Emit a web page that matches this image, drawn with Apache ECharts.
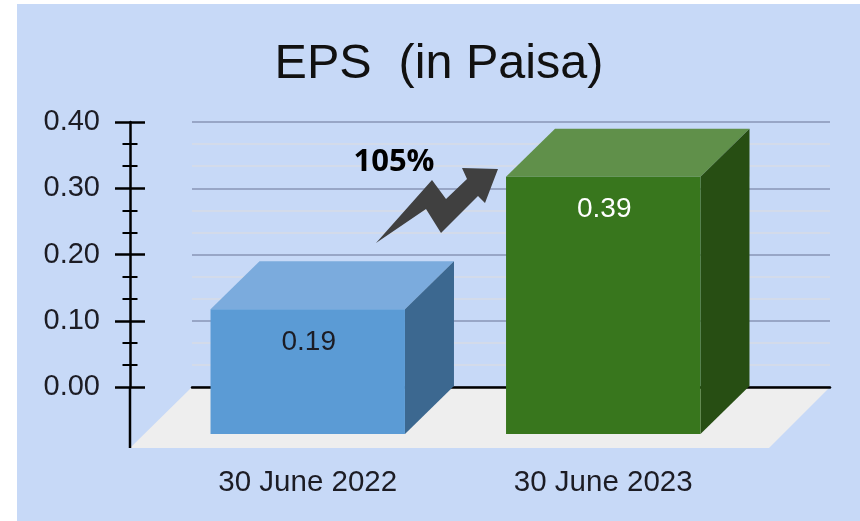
<!DOCTYPE html>
<html>
<head>
<meta charset="utf-8">
<title>EPS</title>
<script src="https://cdn.jsdelivr.net/npm/echarts@6/dist/echarts.min.js"></script>
<style>
html, body { margin: 0; padding: 0; background: #fff; }
#main { width: 860px; height: 521px; }
</style>
</head>
<body>
<div id="main"></div>
<script>
var categories = ['30 June 2022', '30 June 2023'];
var epsValues = [0.19, 0.39];
var valueLabels = ['0.19', '0.39'];

var barColors = [
    { front: '#5b9bd5', top: '#7babdd', side: '#3c6890', text: '#1c1c24' },
    { front: '#38761d', top: '#60904a', side: '#274e13', text: '#ffffff' }
];
var fontName = '"Liberation Sans", Arial, sans-serif';
var textColor = '#1c1c24';

// 3d look: the back wall carries the scale, front faces are shifted by this
var depthX = 49;
var depthY = 48;

function renderBar(params, api) {
    var i = api.value(0);
    var c = barColors[i];
    var top = api.coord([i, api.value(1)]);
    var base = api.coord([i, 0]);
    var w = api.size([1, 0])[0] * 0.658;
    var x0 = top[0] - w / 2;
    var x1 = top[0] + w / 2;
    var yTop = top[1] + depthY;
    var yBase = base[1] + depthY - 1;
    return {
        type: 'group',
        children: [
            {
                type: 'polygon',
                shape: { points: [[x0, yTop], [x1, yTop], [x1 + depthX, yTop - depthY], [x0 + depthX, yTop - depthY]] },
                style: { fill: c.top }
            },
            {
                type: 'polygon',
                shape: { points: [[x1, yTop], [x1 + depthX, yTop - depthY], [x1 + depthX, yBase - depthY], [x1, yBase]] },
                style: { fill: c.side }
            },
            {
                type: 'rect',
                shape: { x: x0, y: yTop, width: w, height: yBase - yTop },
                style: { fill: c.front }
            },
            {
                type: 'text',
                style: {
                    text: valueLabels[i],
                    x: top[0] + 1,
                    y: yTop + 33,
                    align: 'center',
                    verticalAlign: 'middle',
                    fill: c.text,
                    font: '28px ' + fontName
                }
            }
        ]
    };
}

function renderFloor(params, api) {
    var sys = params.coordSys;
    var y0 = api.coord([0, 0])[1];
    var h = 61;
    var skew = 61;
    return {
        type: 'polygon',
        shape: {
            points: [
                [sys.x, y0],
                [sys.x + sys.width, y0],
                [sys.x + sys.width - skew, y0 + h],
                [sys.x - skew - 1, y0 + h]
            ]
        },
        style: { fill: '#eeeeee' }
    };
}

// the y axis line runs on below zero, down to the front of the floor
function renderAxisTail(params, api) {
    var sys = params.coordSys;
    var y0 = api.coord([0, 0])[1];
    return {
        type: 'line',
        shape: { x1: sys.x - 30, y1: y0, x2: sys.x - 30, y2: y0 + 61 },
        style: { stroke: '#000', lineWidth: 2.5 }
    };
}

var myChart = echarts.init(document.getElementById('main'), null, { renderer: 'canvas' });

var option = {
    backgroundColor: '#ffffff',
    animation: false,
    title: {
        text: 'EPS  (in Paisa)',
        left: 434,
        top: 35,
        textAlign: 'center',
        textStyle: { fontFamily: fontName, fontSize: 48.5, fontWeight: 'normal', color: '#111' }
    },
    grid: [
        { left: 160, right: 109, top: 122, bottom: 134 },
        { left: 192, right: 30, top: 122, bottom: 134 }
    ],
    xAxis: [
        {
            type: 'category',
            gridIndex: 0,
            data: categories,
            axisLine: { show: false },
            axisTick: { show: false },
            axisLabel: { margin: 81, color: textColor, fontFamily: fontName, fontSize: 29.5 }
        },
        {
            type: 'category',
            gridIndex: 1,
            data: categories,
            axisLine: { lineStyle: { color: '#000', width: 2.5 } },
            axisTick: { show: false },
            axisLabel: { show: false }
        }
    ],
    yAxis: [
        {
            type: 'value',
            gridIndex: 0,
            min: 0,
            max: 0.4,
            interval: 0.1,
            position: 'left',
            offset: 30,
            axisLine: { show: true, lineStyle: { color: '#000', width: 2.5 } },
            axisTick: { show: true, length: 15, lineStyle: { color: '#000', width: 2.5 } },
            minorTick: { show: true, splitNumber: 3, length: 7.5, lineStyle: { color: '#000', width: 2 } },
            splitLine: { show: false },
            axisLabel: {
                margin: 30,
                color: textColor,
                fontFamily: fontName,
                fontSize: 29,
                padding: [7, 0, 0, 0],
                formatter: function (v) { return v.toFixed(2); }
            }
        },
        {
            // same axis again, ticks pointing the other way so they cross the line
            type: 'value',
            gridIndex: 0,
            min: 0,
            max: 0.4,
            interval: 0.1,
            position: 'left',
            offset: 30,
            axisLine: { show: false },
            axisTick: { show: true, inside: true, length: 15, lineStyle: { color: '#000', width: 2.5 } },
            minorTick: { show: true, splitNumber: 3, length: 7.5, lineStyle: { color: '#000', width: 2 } },
            splitLine: { show: false },
            axisLabel: { show: false }
        },
        {
            type: 'value',
            gridIndex: 1,
            min: 0,
            max: 0.4,
            interval: 0.1,
            axisLine: { show: false },
            axisTick: { show: false },
            axisLabel: { show: false },
            minorTick: { show: false, splitNumber: 3 },
            splitLine: { show: true, lineStyle: { color: '#98a6c6', width: 2 } },
            minorSplitLine: { show: true, lineStyle: { color: '#d3dbea', width: 2 } }
        }
    ],
    graphic: [
        {
            type: 'rect',
            z: -10,
            shape: { x: 17, y: 4, width: 843, height: 517 },
            style: { fill: '#c7d9f7' }
        },
        {
            type: 'polygon',
            z: 10,
            shape: {
                points: [[376, 243], [432, 180], [446, 199], [467, 179], [462, 168], [498, 169],
                    [485, 203], [478, 196], [441, 233], [426, 209]]
            },
            style: { fill: '#404040' }
        },
        {
            type: 'text',
            z: 10,
            x: 394,
            y: 162,
            style: {
                text: '105%',
                align: 'center',
                verticalAlign: 'middle',
                fill: '#000',
                font: 'bold 31px "Open Sans", sans-serif'
            }
        }
    ],
    series: [
        {
            type: 'custom',
            xAxisIndex: 1,
            yAxisIndex: 2,
            z: -1,
            silent: true,
            renderItem: renderFloor,
            data: [[0, 0]]
        },
        {
            type: 'custom',
            xAxisIndex: 0,
            yAxisIndex: 0,
            silent: true,
            renderItem: renderAxisTail,
            data: [[0, 0]]
        },
        {
            type: 'custom',
            xAxisIndex: 0,
            yAxisIndex: 0,
            encode: { x: 0, y: 1 },
            renderItem: renderBar,
            data: epsValues.map(function (v, i) { return [i, v]; })
        }
    ]
};

myChart.setOption(option);
</script>
</body>
</html>
